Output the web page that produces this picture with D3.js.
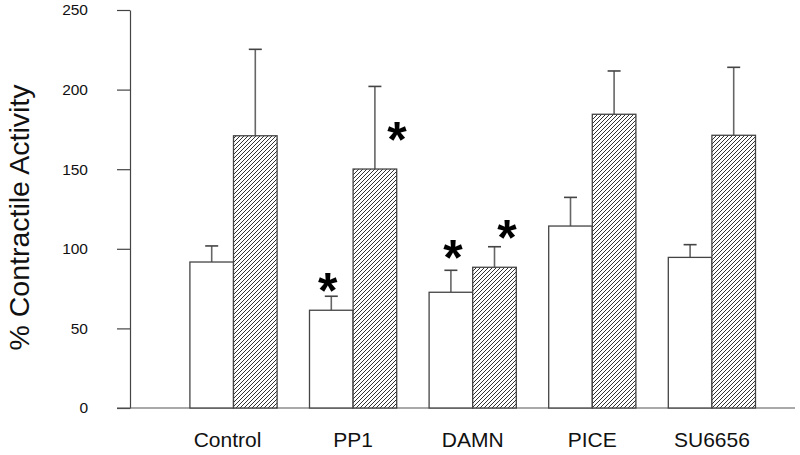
<!DOCTYPE html>
<html>
<head>
<meta charset="utf-8">
<script src="https://cdn.jsdelivr.net/npm/d3@7"></script>
<style>
  html, body { margin: 0; padding: 0; background: #fff; }
  svg { display: block; }
</style>
</head>
<body>
<svg id="chart" width="800" height="455"></svg>
<script>
// ---- data ----
const categories = ["Control", "PP1", "DAMN", "PICE", "SU6656"];
const seriesNames = ["open", "hatched"];
const openValues = [91.7, 61.4, 72.7, 114.3, 94.6];
const openErrors = [10.1, 8.8, 13.8, 18.0, 8.0];
const hatchedValues = [171.0, 150.1, 88.4, 184.5, 171.3];
const hatchedErrors = [54.3, 51.9, 12.9, 27.2, 42.7];
const yTicks = [0, 50, 100, 150, 200, 250];
const yLabel = "% Contractile Activity";
// significance markers: category, series index, height (data units)
const sigCategories = ["PP1", "PP1", "DAMN", "DAMN"];
const sigSeries = [0, 1, 0, 1];
const sigLevels = [79.8, 174.6, 100.5, 113.0];

// ---- drawing ----
const svg = d3.select("#chart");
const defs = svg.append("defs");
const pat = defs.append("pattern")
  .attr("id", "hatch").attr("patternUnits", "userSpaceOnUse")
  .attr("width", 4).attr("height", 4);
pat.append("rect").attr("width", 4).attr("height", 4).attr("fill", "#fff");
pat.append("path")
  .attr("d", "M-1,1 l2,-2 M0,4 l4,-4 M3,5 l2,-2")
  .attr("stroke", "#333").attr("stroke-width", 1.0);

const y = d3.scaleLinear().domain([0, 250]).range([408, 10]);
const x = d3.scalePoint().domain(categories).range([233.5, 711.9]);
const sub = d3.scaleBand().domain(seriesNames).range([-43.6, 43.6]).padding(0);
const bw = sub.bandwidth();

// y axis
const yAxis = d3.axisLeft(y).tickValues(yTicks).tickSize(13).tickPadding(29).tickSizeOuter(0);
const gy = svg.append("g").attr("transform", "translate(130,0)").call(yAxis);
gy.select(".domain").attr("stroke", "#444").attr("stroke-width", 1.2);
gy.selectAll(".tick line").attr("stroke", "#444").attr("stroke-width", 1.2);
gy.selectAll(".tick text")
  .attr("font-family", "Liberation Sans, Arial, sans-serif")
  .attr("font-size", 15.5).attr("fill", "#111");

// x axis baseline
svg.append("line")
  .attr("x1", 117).attr("x2", 795)
  .attr("y1", y(0)).attr("y2", y(0))
  .attr("stroke", "#555").attr("stroke-width", 1.2);

// category labels
svg.append("g").selectAll("text").data(categories).join("text")
  .attr("x", d => x(d) + (d === "Control" ? -6 : 0))
  .attr("y", 447)
  .attr("text-anchor", "middle")
  .attr("font-family", "Liberation Sans, Arial, sans-serif")
  .attr("font-size", 21).attr("fill", "#111")
  .text(d => d);

// y label
svg.append("text")
  .attr("transform", "translate(29,217.5) rotate(-90)")
  .attr("text-anchor", "middle")
  .attr("font-family", "Liberation Sans, Arial, sans-serif")
  .attr("font-size", 28.5).attr("fill", "#111")
  .text(yLabel);

const rows = [];
categories.forEach((c, i) => {
  rows.push({cat: c, s: "open", v: openValues[i], e: openErrors[i]});
  rows.push({cat: c, s: "hatched", v: hatchedValues[i], e: hatchedErrors[i]});
});

// error bars (drawn first so bar outline sits on top)
const eg = svg.append("g").attr("stroke", "#666").attr("stroke-width", 1.6);
rows.forEach(d => {
  const cx = x(d.cat) + sub(d.s) + bw / 2;
  eg.append("line").attr("x1", cx).attr("x2", cx)
    .attr("y1", y(d.v)).attr("y2", y(d.v + d.e));
  eg.append("line").attr("x1", cx - 6.5).attr("x2", cx + 6.5)
    .attr("y1", y(d.v + d.e)).attr("y2", y(d.v + d.e))
    .attr("stroke", "#444");
});

// bars
svg.append("g").selectAll("rect").data(rows).join("rect")
  .attr("x", d => x(d.cat) + sub(d.s))
  .attr("y", d => y(d.v))
  .attr("width", bw)
  .attr("height", d => y(0) - y(d.v))
  .attr("fill", d => d.s === "open" ? "#fff" : "url(#hatch)")
  .attr("stroke", "#444").attr("stroke-width", 1.3);

// significance asterisks
const sigDx = [-3.5, 22, 2, 12.5];
sigCategories.forEach((c, i) => {
  const s = seriesNames[sigSeries[i]];
  const cx = x(c) + sub(s) + bw / 2 + sigDx[i];
  svg.append("text")
    .attr("x", cx)
    .attr("y", y(sigLevels[i]) + 27)
    .attr("text-anchor", "middle")
    .attr("font-family", "Liberation Sans, Arial, sans-serif")
    .attr("font-weight", "bold")
    .attr("font-size", 50).attr("fill", "#000")
    .text("*");
});
</script>
</body>
</html>
